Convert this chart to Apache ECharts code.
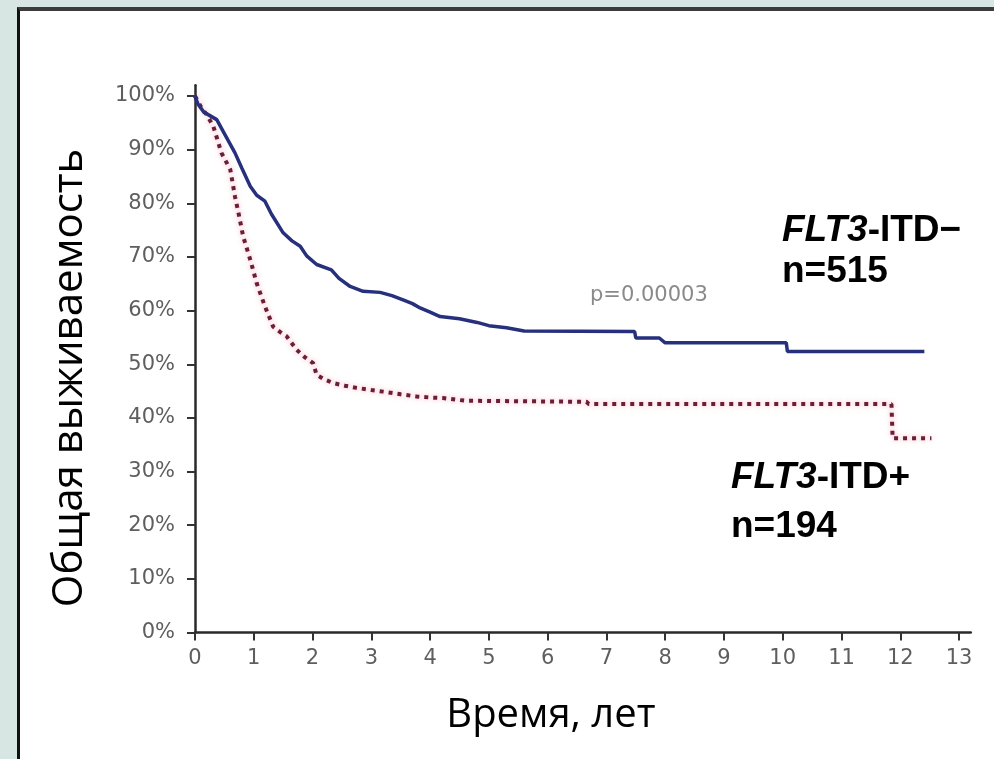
<!DOCTYPE html>
<html>
<head>
<meta charset="utf-8">
<script src="https://cdn.jsdelivr.net/npm/echarts@6/dist/echarts.min.js"></script>
<style>
  html, body { margin: 0; padding: 0; width: 994px; height: 759px; overflow: hidden; background: #d8e6e3; }
  #panel { position: absolute; left: 17px; top: 7px; width: 977px; height: 752px; background: #ffffff;
           border-left: 3px solid #111; border-top: 4px solid #3c3c3c; box-sizing: border-box; }
  #chart { position: absolute; left: 0; top: 0; width: 994px; height: 759px; }
</style>
</head>
<body>
<div id="panel"></div>
<div id="chart"></div>
<script>
// ---- data ----
const xTicks = [0, 1, 2, 3, 4, 5, 6, 7, 8, 9, 10, 11, 12, 13];
const yTicks = [0, 10, 20, 30, 40, 50, 60, 70, 80, 90, 100];

// FLT3-ITD− (n=515), solid blue
const negTime = [0, 0.05, 0.15, 0.37, 0.5, 0.68, 0.8, 0.94, 1.05, 1.19, 1.3, 1.5, 1.65, 1.79, 1.9, 2.07, 2.32, 2.45, 2.64, 2.86, 3.15, 3.35, 3.54, 3.7, 3.83, 4.0, 4.17, 4.5, 4.8, 5.0, 5.3, 5.6, 7.48, 7.5, 7.9, 8.0, 10.06, 10.08, 12.41];
const negSurv = [100, 98.5, 97, 95.6, 93, 89.4, 86.5, 83.2, 81.5, 80.4, 78, 74.5, 73, 72, 70.2, 68.6, 67.6, 66, 64.5, 63.6, 63.4, 62.8, 62, 61.3, 60.5, 59.7, 58.9, 58.5, 57.8, 57.2, 56.8, 56.2, 56.1, 54.9, 54.9, 54, 54, 52.4, 52.4];

// FLT3-ITD+ (n=194), dotted red
const posTime = [0, 0.1, 0.2, 0.31, 0.45, 0.6, 0.68, 0.74, 0.82, 0.94, 1.05, 1.19, 1.33, 1.45, 1.56, 1.73, 1.87, 2.01, 2.07, 2.2, 2.35, 2.55, 2.75, 3.0, 3.2, 3.5, 3.77, 4.0, 4.22, 4.6, 6.66, 6.7, 11.85, 11.87, 12.53];
const posSurv = [100, 98, 96.5, 94.4, 89.4, 86.3, 81.3, 78.2, 73.8, 69.5, 65.1, 60.8, 57, 56, 55.2, 52.7, 51.3, 50.2, 48, 47.2, 46.5, 46, 45.6, 45.2, 44.9, 44.4, 44, 43.8, 43.7, 43.2, 43.0, 42.6, 42.6, 36.2, 36.2];

const pValue = 'p=0.00003';
const negLabel = ['FLT3', '-ITD\u2212', 'n=515'];
const posLabel = ['FLT3', '-ITD+', 'n=194'];
const xName = 'Время, лет';
const yName = 'Общая выживаемость';

const negData = negTime.map((t, i) => [t, negSurv[i]]);
const posData = posTime.map((t, i) => [t, posSurv[i]]);

const chart = echarts.init(document.getElementById('chart'), null, { renderer: 'canvas' });
const tickFont = 'DejaVu Sans';
const annFont = 'Liberation Sans, Arial, sans-serif';
const annSize = 37;

chart.setOption({
  animation: false,
  backgroundColor: 'transparent',
  grid: { left: 195, top: 85.3, right: 23.2, bottom: 126.5, containLabel: false },
  xAxis: {
    type: 'value', min: 0, max: 13.2,
    name: xName, nameLocation: 'middle', nameGap: 63,
    nameTextStyle: { fontFamily: 'Open Sans', fontSize: 40, color: '#000', padding: [0, 64, 0, 0] },
    axisLine: { show: true, onZero: false, lineStyle: { color: '#2a2a2a', width: 2.5 } },
    axisTick: { show: true, length: 8, customValues: xTicks, lineStyle: { color: '#333', width: 2 } },
    axisLabel: { customValues: xTicks, margin: 16, fontFamily: tickFont, fontSize: 21, color: '#5e5e5e' },
    splitLine: { show: false }
  },
  yAxis: {
    type: 'value', min: 0, max: 102,
    name: yName, nameLocation: 'middle', nameGap: 104, nameRotate: 90,
    nameTextStyle: { fontFamily: 'Open Sans', fontSize: 42, color: '#000', padding: [0, 38, 0, 0] },
    axisLine: { show: true, onZero: false, lineStyle: { color: '#2a2a2a', width: 2.5 } },
    axisTick: { show: true, length: 8, customValues: yTicks, lineStyle: { color: '#333', width: 2 } },
    axisLabel: { customValues: yTicks, margin: 20, fontFamily: tickFont, fontSize: 21, color: '#5e5e5e',
                 formatter: v => v + '%' },
    splitLine: { show: false }
  },
  series: [
    {
      name: 'FLT3-ITD+', type: 'line', data: posData, showSymbol: false, z: 2,
      lineStyle: { color: '#6a1e38', width: 4, type: [4, 5], cap: 'butt',
                   shadowColor: 'rgba(235,90,120,0.55)', shadowBlur: 5 }
    },
    {
      name: 'FLT3-ITD−', type: 'line', data: negData, showSymbol: false, z: 3,
      lineStyle: { color: '#26307c', width: 3.5 }
    }
  ],
  graphic: [
    { type: 'text', left: 590, top: 285, style: { text: pValue, font: '21px DejaVu Sans', fill: '#8a8a8a' } },
    { type: 'text', left: 782, top: 212, style: {
        text: '{a|' + negLabel[0] + '}{b|' + negLabel[1] + '}',
        rich: { a: { fontFamily: annFont, fontSize: annSize, fontWeight: 'bold', fontStyle: 'italic', fill: '#000' },
                b: { fontFamily: annFont, fontSize: annSize, fontWeight: 'bold', fill: '#000' } } } },
    { type: 'text', left: 782, top: 253, style: { text: negLabel[2], font: 'bold ' + annSize + 'px Liberation Sans', fill: '#000' } },
    { type: 'text', left: 731, top: 459, style: {
        text: '{a|' + posLabel[0] + '}{b|' + posLabel[1] + '}',
        rich: { a: { fontFamily: annFont, fontSize: annSize, fontWeight: 'bold', fontStyle: 'italic', fill: '#000' },
                b: { fontFamily: annFont, fontSize: annSize, fontWeight: 'bold', fill: '#000' } } } },
    { type: 'text', left: 731, top: 508, style: { text: posLabel[2], font: 'bold ' + annSize + 'px Liberation Sans', fill: '#000' } }
  ]
});
</script>
</body>
</html>
